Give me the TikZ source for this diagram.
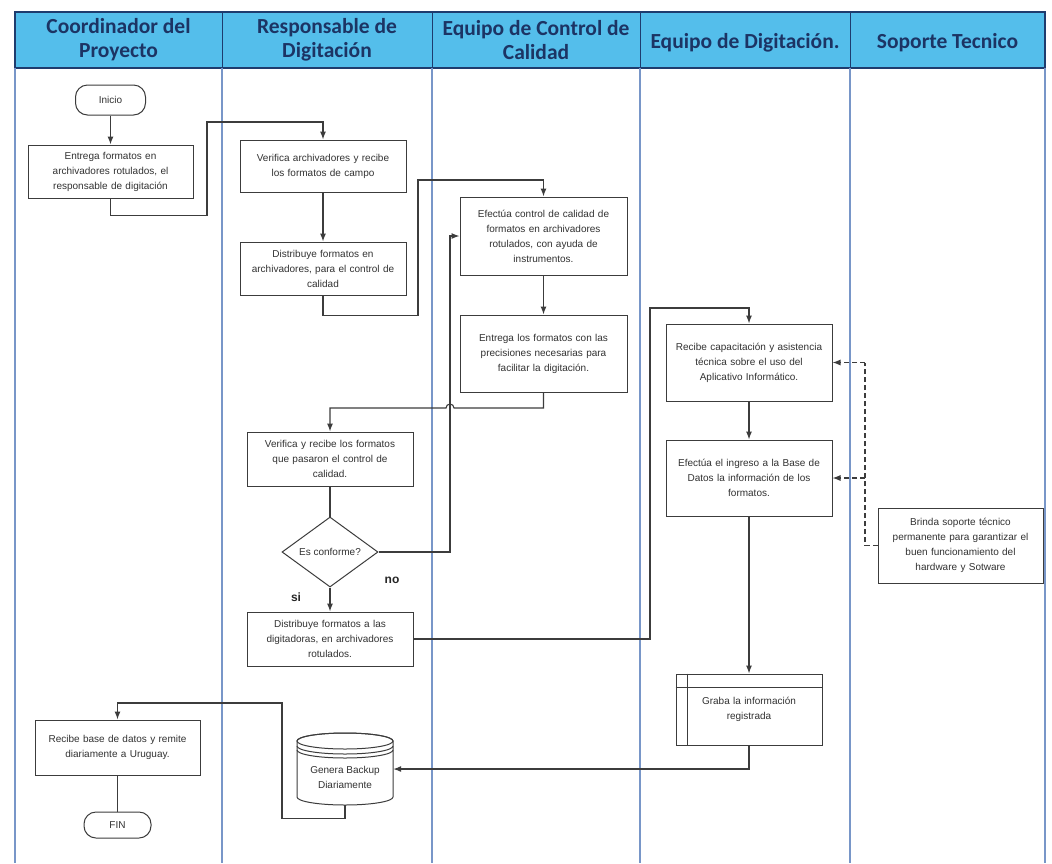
\documentclass[tikz,border=0pt]{standalone}
\usepackage{fontspec}
\setmainfont{Liberation Sans}
\newfontfamily\hdrfont{Carlito}
\usetikzlibrary{arrows.meta,shapes.geometric}
\definecolor{hdrfill}{RGB}{84,190,235}
\definecolor{hdrtext}{RGB}{28,52,100}
\definecolor{hdrline}{RGB}{30,60,110}
\definecolor{laneline}{RGB}{120,150,200}
\definecolor{boxline}{RGB}{60,60,60}
\definecolor{txt}{RGB}{50,50,50}
\begin{document}
\begin{tikzpicture}[x=1pt,y=-1pt,
  proc/.style={draw=boxline,line width=1pt,fill=white,align=center,inner sep=0pt,
    font=\fontsize{10}{15}\selectfont,text=txt},
  term/.style={proc,rounded corners=12pt},
  conn/.style={draw=boxline,line width=1.1pt},
  flow/.style={conn,-{Latex[length=8pt,width=6pt]}},
  dconn/.style={conn,dash pattern=on 5pt off 3pt},
  hdr/.style={font=\hdrfont\bfseries\fontsize{21.5}{24}\selectfont,text=hdrtext,align=center,inner sep=0pt},
  yn/.style={font=\bfseries\fontsize{12}{14}\selectfont,text=black!85,inner sep=0pt}
]
\useasboundingbox (0,0) rectangle (1052,863);
\fill[white] (0,0) rectangle (1052,863);
% header
\fill[hdrfill] (15,12) rectangle (1045,68);
\draw[hdrline,line width=1.3pt] (15,12) rectangle (1045,68);
\foreach \xx in {222,432,640,850}{\draw[hdrline,line width=1pt] (\xx,12) -- (\xx,68);}
% lanes
\foreach \xx in {15,222,432,640,850,1045}{\draw[laneline,line width=1.6pt] (\xx,68) -- (\xx,863);}
\node[hdr] (h1) at (118.5,40) {Coordinador del\\Proyecto};
\node[hdr] (h2) at (327,40) {Responsable de\\Digitación};
\node[hdr] (h3) at (536,40) {Equipo de Control de\\Calidad};
\node[hdr] (h4) at (745,43) {Equipo de Digitación.};
\node[hdr] (h5) at (947.5,43) {Soporte Tecnico};

% nodes
\node[term,minimum width=70pt,minimum height=30pt] (inicio) at (110.5,100) {Inicio};
\node[proc,text width=165pt,minimum height=53pt] (entrega) at (110.5,171.5) {Entrega formatos en\\archivadores rotulados, el\\responsable de digitación};
\node[proc,text width=166pt,minimum height=52pt] (verifica) at (323,166) {Verifica archivadores y recibe\\los formatos de campo};
\node[proc,text width=166pt,minimum height=53pt] (distrib1) at (323,268.5) {Distribuye formatos en\\archivadores, para el control de\\calidad};
\node[proc,text width=167pt,minimum height=78pt] (efectua) at (543.5,236) {Efectúa control de calidad de\\formatos en archivadores\\rotulados, con ayuda de\\instrumentos.};
\node[proc,text width=167pt,minimum height=77pt] (entrega2) at (543.5,353.5) {Entrega los formatos con las\\precisiones necesarias para\\facilitar la digitación.};
\node[proc,text width=166pt,minimum height=77pt] (recibecap) at (749,362.5) {Recibe capacitación y asistencia\\técnica sobre el uso del\\Aplicativo Informático.};
\node[proc,text width=166pt,minimum height=76pt] (ingreso) at (749,478) {Efectúa el ingreso a la Base de\\Datos la información de los\\formatos.};
\node[proc,text width=165pt,minimum height=75pt] (brinda) at (960.5,545.5) {Brinda soporte técnico\\permanente para garantizar el\\buen funcionamiento del\\hardware y Sotware};
\node[proc,text width=166pt,minimum height=54pt] (verifica2) at (330,459) {Verifica y recibe los formatos\\que pasaron el control de\\calidad.};
\node[proc,diamond,aspect=1.37,minimum width=96pt,minimum height=70pt,inner sep=0pt] (decision) at (330,552) {Es conforme?};
\node[proc,text width=166pt,minimum height=54pt] (distrib2) at (330,639) {Distribuye formatos a las\\digitadoras, en archivadores\\rotulados.};
\node[proc,text width=146pt,minimum height=71pt] (graba) at (749,709.5) {Graba la información\\registrada};
\draw[boxline,line width=1pt] ([yshift=-14pt]graba.north west) -- ([yshift=-14pt]graba.north east);
\draw[boxline,line width=1pt] ([xshift=12pt]graba.north west) -- ([xshift=12pt]graba.south west);
% cylinder
\draw[boxline,line width=1pt,fill=white] (297,741) -- (297,797) arc[start angle=180,end angle=0,x radius=48,y radius=8] -- (393,741) arc[start angle=0,end angle=-180,x radius=48,y radius=8] -- cycle;
\draw[boxline,line width=1pt] (345,741) ellipse[x radius=48,y radius=8];
\draw[boxline,line width=1pt] (297,746) arc[start angle=180,end angle=0,x radius=48,y radius=8];
\draw[boxline,line width=1pt] (297,750) arc[start angle=180,end angle=0,x radius=48,y radius=8];
\node[align=center,inner sep=0pt,minimum width=96pt,minimum height=72pt,font=\fontsize{10}{15}\selectfont,text=txt] (backup) at (345,769) {\mbox{}\\[9pt]Genera Backup\\Diariamente};
\node[proc,text width=165pt,minimum height=55pt] (recibebase) at (117.5,747.5) {Recibe base de datos y remite\\diariamente a Uruguay.};
\node[term,minimum width=67pt,minimum height=26pt] (fin) at (117.5,825) {FIN};
\node[yn] (no) at (392,580) {no};
\node[yn] (si) at (296,597) {si};

% connectors
\coordinate (c2) at (207,122);
\coordinate (c4) at (418,180);
\coordinate (c9) at (450,0);
\coordinate (jmp) at (454,408);
\coordinate (c10) at (650,308);
\coordinate (c14) at (282,703);
\coordinate (dx) at (865,0);
\draw[flow] (inicio) -- (entrega);
\draw[flow] (entrega.south) -- ++(0,17) -| (c2) -| (verifica.north);
\draw[flow] (verifica) -- (distrib1);
\draw[flow] (distrib1.south) -- ++(0,20) -| (c4) -| (efectua.north);
\draw[flow] (efectua) -- (entrega2);
\draw[flow] (entrega2.south) |- (jmp) arc[start angle=0,end angle=-180,radius=4] -| (verifica2.north);
\draw[conn] (verifica2) -- (decision);
\draw[flow] (decision) -- (distrib2);
\draw[flow] (decision.east) -| (efectua.west -| c9) -- (efectua.west);
\draw[flow] (distrib2.east) -| (c10) -| (recibecap.north);
\draw[flow] (recibecap) -- (ingreso);
\draw[flow] (ingreso) -- (graba);
\draw[flow] (graba.south) |- (backup.east);
\draw[flow] (backup.south) -- ++(0,13) -| (c14) -| (recibebase.north);
\draw[conn] (recibebase) -- (fin);
\draw[dconn] (brinda.west) -- (brinda.west -| dx) -- (recibecap.east -| dx);
\draw[dconn,-{Latex[length=8pt,width=6pt]}] (recibecap.east -| dx) -- (recibecap.east);
\draw[dconn,-{Latex[length=8pt,width=6pt]}] (ingreso.east -| dx) -- (ingreso.east);
\end{tikzpicture}
\end{document}
